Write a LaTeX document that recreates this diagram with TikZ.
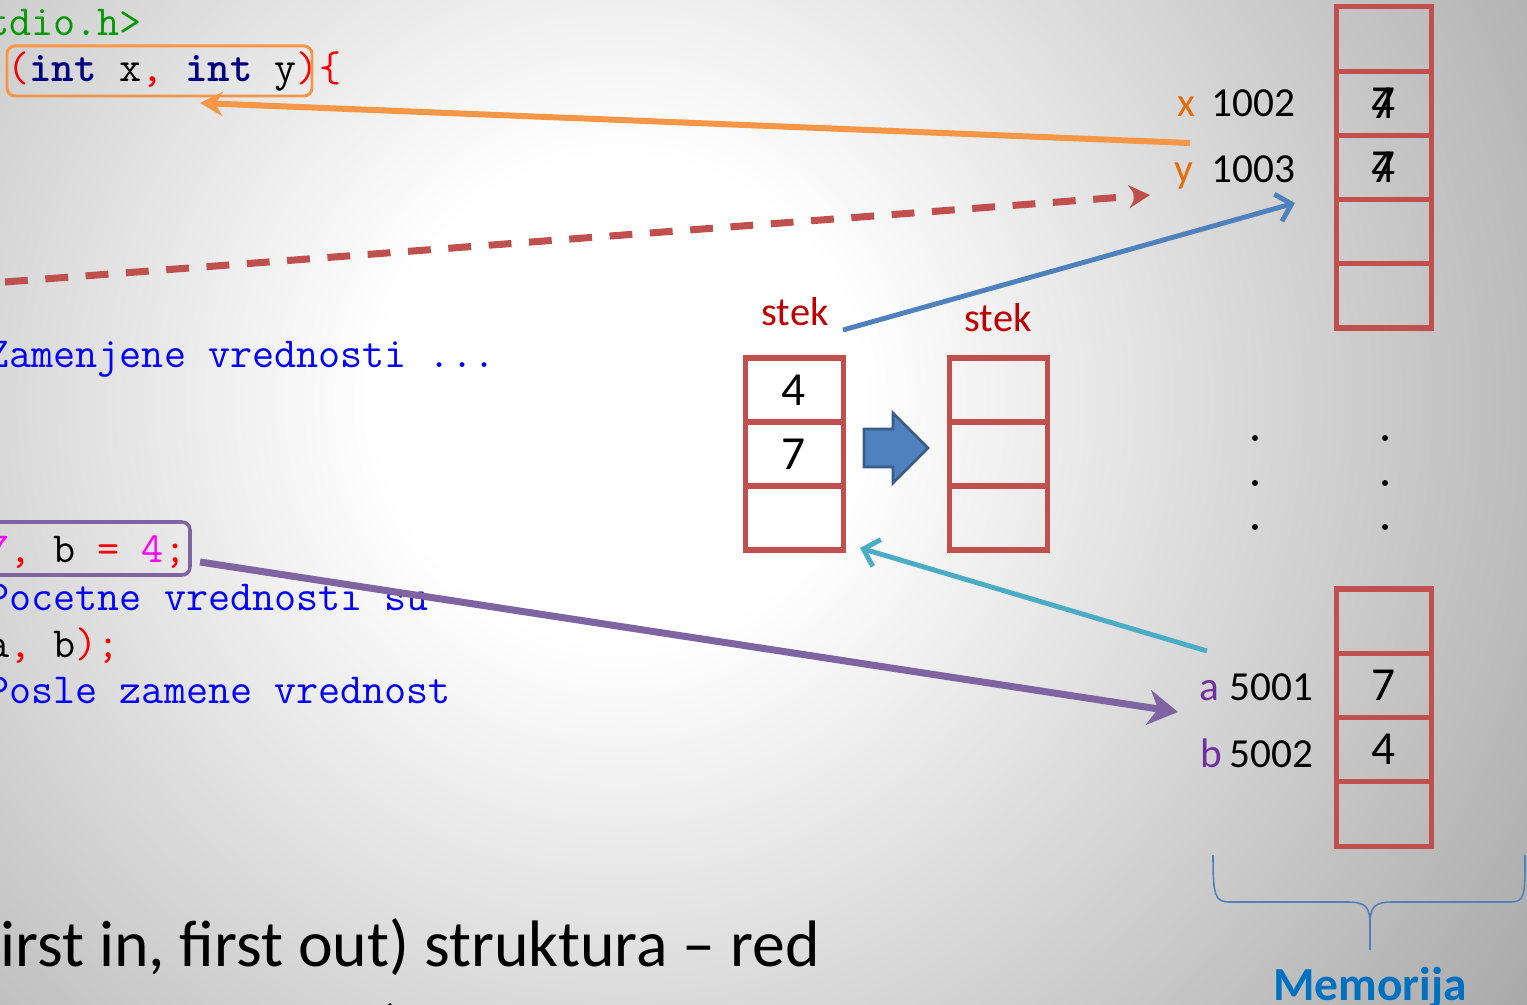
\documentclass[tikz,border=0pt]{standalone}
\usepackage{fontspec}
\setmainfont{Carlito}
\usetikzlibrary{arrows.meta}

\definecolor{codegreen}{HTML}{009900}
\definecolor{codenavy}{HTML}{000080}
\definecolor{codered}{HTML}{FF0000}
\definecolor{codemagenta}{HTML}{FF00FF}
\definecolor{codeblue}{HTML}{0000FF}
\definecolor{memred}{HTML}{C0504D}
\definecolor{stekred}{HTML}{C00000}
\definecolor{lblorange}{HTML}{E46C0A}
\definecolor{lblpurple}{HTML}{7030A0}
\definecolor{arrorange}{HTML}{F79646}
\definecolor{arrblue}{HTML}{4F81BD}
\definecolor{arrblueedge}{HTML}{385D8A}
\definecolor{arrteal}{HTML}{4BACC6}
\definecolor{arrpurple}{HTML}{8064A2}
\definecolor{memblue}{HTML}{0070C0}

\pgfdeclareradialshading{slidebg}{\pgfpoint{0bp}{0bp}}{color(0bp)=(white); color(5.5bp)=(white); color(25bp)=(black!34); color(50bp)=(black!34)}

\tikzset{
	code/.style={anchor=base west, inner sep=0pt, font=\ttfamily\fontsize{24.4}{28}\selectfont},
	lbl/.style={anchor=base west, inner sep=0pt, font=\fontsize{23.5}{28}\selectfont},
	val/.style={inner sep=0pt, font=\fontsize{27}{32}\selectfont},
	cell/.style={draw=memred, line width=2.85pt},
	stekname/.style={anchor=base, inner sep=0pt, text=stekred, font=\fontsize{23}{28}\selectfont},
	bigtext/.style={anchor=base west, inner sep=0pt, font=\fontsize{37.4}{45}\selectfont}
}

\begin{document}
\begin{tikzpicture}
		\useasboundingbox (0,0) rectangle (30.54,20.08);
		\clip (0,0) rectangle (30.54,20.08);
		\shade [shading=slidebg] (12.4,12.08) circle (22);

		\node [code, text=codegreen] (inc) at (-0.26,19.36) {tdio.h>};
		\node [code] (params) at (0.14,18.44) {\textcolor{codered}{(}\textcolor{codenavy}{\bfseries int} x\textcolor{codered}{,} \textcolor{codenavy}{\bfseries int} y\textcolor{codered}{)\{}};
		\draw [draw=arrorange, line width=1.7pt, rounded corners=0.16cm] (0.14,19.16) rectangle (6.24,18.16);
		\node [code, text=codeblue] (swapmsg) at (-0.26,12.72) {Zamenjene vrednosti ...};
		\node [code] (decl) at (-0.26,8.84) {\textcolor{codemagenta}{7}\textcolor{codered}{,} b \textcolor{codered}{=} \textcolor{codemagenta}{4}\textcolor{codered}{;}};
		\draw [draw=arrpurple, line width=2pt, rounded corners=0.16cm] (-0.4,9.64) rectangle (3.8,8.58);
		\node [code, text=codeblue] (beforemsg) at (-0.26,7.88) {Pocetne vrednosti su};
		\node [code] (call) at (-0.26,6.94) {a\textcolor{codered}{,} b\textcolor{codered}{);}};
		\node [code, text=codeblue] (aftermsg) at (-0.26,6.02) {Posle zamene vrednost};

		\node [bigtext] (fifo) at (0,0.76) {irst in, first out) struktura \textendash{} red};
		\node [bigtext] (lifo) at (0,-0.94) {ast in, first out) struktura \textendash{} stek};

		\foreach \i in {0,...,4}
			\draw [cell] (26.72,19.94-1.284*\i) rectangle ++(1.9,-1.284);
		\foreach \i in {0,1,2} {
			\draw [cell] (14.9,12.92-1.28*\i) rectangle ++(1.96,-1.28);
			\draw [cell] (18.98,12.92-1.28*\i) rectangle ++(1.96,-1.28);
		}
		\foreach \i in {0,...,3}
			\draw [cell] (26.72,8.3-1.285*\i) rectangle ++(1.9,-1.285);

		\node [val] (xold) at (27.67,18.01) {7};
		\node [val] (xnew) at (27.67,18.01) {4};
		\node [val] (yold) at (27.67,16.73) {4};
		\node [val] (ynew) at (27.67,16.73) {7};
		\node [val] (stektop) at (15.88,12.28) {4};
		\node [val] (stekmid) at (15.88,11.0) {7};
		\node [val] (aval) at (27.67,6.37) {7};
		\node [val] (bval) at (27.67,5.09) {4};

		\node [lbl, text=lblorange] (xname) at (23.54,17.74) {x};
		\node [lbl] (xaddr) at (24.22,17.74) {1002};
		\node [lbl, text=lblorange] (yname) at (23.48,16.42) {y};
		\node [lbl] (yaddr) at (24.22,16.42) {1003};
		\node [lbl, text=lblpurple] (aname) at (23.98,6.08) {a};
		\node [lbl] (aaddr) at (24.58,6.08) {5001};
		\node [lbl, text=lblpurple] (bname) at (24.0,4.74) {b};
		\node [lbl] (baddr) at (24.58,4.74) {5002};

		\node [stekname] (stekA) at (15.9,13.56) {stek};
		\node [stekname] (stekB) at (19.96,13.44) {stek};

		\foreach \y in {11.32,10.42,9.54} {
			\fill (25.1,\y) circle (0.06);
			\fill (27.7,\y) circle (0.06);
		}

		\draw [fill=arrblue, draw=arrblueedge, line width=1.5pt] (17.28,11.5) -- (17.86,11.5) -- (17.86,11.82) -- (18.56,11.12) -- (17.86,10.42) -- (17.86,10.74) -- (17.28,10.74) -- cycle;

		\coordinate (otail) at (23.8,17.22);
		\coordinate (ohead) at (4.0,18.02);
		\coordinate (rtail) at (0.1,14.44);
		\coordinate (rhead) at (23.0,16.18);
		\coordinate (btail) at (16.86,13.48);
		\coordinate (bhead) at (25.9,16.02);
		\coordinate (ttail) at (24.14,7.06);
		\coordinate (thead) at (17.2,9.12);
		\coordinate (ptail) at (4.0,8.84);
		\coordinate (phead) at (23.56,5.84);

		\draw [arrorange, line width=3.4pt, -{Stealth[length=13pt,width=14pt]}] (otail) -- (ohead);
		\draw [memred, line width=4pt, dash pattern=on 13pt off 10pt, -{Stealth[length=12pt,width=13pt]}] (rtail) -- (rhead);
		\draw [arrblue, line width=2.8pt, -{Straight Barb[length=8pt,width=16pt]}] (btail) -- (bhead);
		\draw [arrteal, line width=2.8pt, -{Straight Barb[length=8pt,width=16pt]}] (ttail) -- (thead);
		\draw [arrpurple, line width=4pt, -{Stealth[length=17pt,width=20pt]}] (ptail) -- (phead);

		\draw [arrblue, line width=0.9pt] (24.26,2.98) .. controls (24.26,2.15) and (24.3,2.04) .. (24.6,2.04) -- (26.95,2.04) .. controls (27.3,2.04) and (27.4,1.95) .. (27.4,1.6) -- (27.4,1.08);
		\draw [arrblue, line width=0.9pt] (27.4,1.6) .. controls (27.4,1.95) and (27.5,2.04) .. (27.85,2.04) -- (30.2,2.04) .. controls (30.5,2.04) and (30.5,2.15) .. (30.5,2.98);
		\node [anchor=base, inner sep=0pt, text=memblue, font=\bfseries\fontsize{27}{32}\selectfont] (memlbl) at (27.4,0.08) {Memorija};
	\end{tikzpicture}
\end{document}
